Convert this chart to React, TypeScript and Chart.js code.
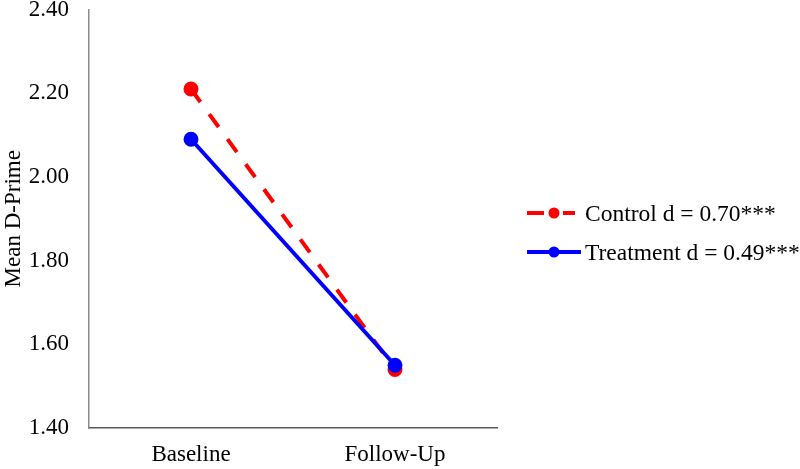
import React, { useEffect, useRef } from "react";
import { Chart, registerables } from "chart.js";

Chart.register(...registerables);

const categories = ["Baseline", "Follow-Up"];
const controlValues = [2.21, 1.54];
const treatmentValues = [2.09, 1.55];
const seriesLabels = ["Control d = 0.70***", "Treatment d = 0.49***"];
const yTitle = "Mean D-Prime";

const FONT = '"Liberation Serif", "Times New Roman", serif';

const legendPlugin = {
  id: "customLegend",
  afterDraw(chart: any) {
    const ctx = chart.ctx;
    const x0 = 527;
    const rows = [213, 252];
    const ends = [575, 581];
    chart.data.datasets.forEach((ds: any, i: number) => {
      const y = rows[i];
      ctx.save();
      ctx.strokeStyle = ds.borderColor;
      ctx.lineWidth = ds.borderWidth;
      ctx.beginPath();
      if (ds.borderDash) {
        ctx.moveTo(x0, y);
        ctx.lineTo(544, y);
        ctx.moveTo(563, y);
        ctx.lineTo(ends[i], y);
      } else {
        ctx.moveTo(x0, y);
        ctx.lineTo(ends[i], y);
      }
      ctx.stroke();
      ctx.fillStyle = ds.pointBackgroundColor;
      ctx.beginPath();
      ctx.arc(554, y, 5.5, 0, Math.PI * 2);
      ctx.fill();
      ctx.fillStyle = "#000";
      ctx.font = `23.5px ${FONT}`;
      ctx.textBaseline = "middle";
      ctx.textAlign = "left";
      ctx.fillText(ds.label, 585, y + 2);
      ctx.restore();
    });
  },
};

export default function App() {
  const ref = useRef<HTMLCanvasElement>(null);
  useEffect(() => {
    document.body.style.margin = "0";
    const chart = new Chart(ref.current!, {
      type: "line",
      data: {
        labels: categories,
        datasets: [
          {
            label: seriesLabels[0],
            data: controlValues,
            borderColor: "#FF0000",
            backgroundColor: "#FF0000",
            pointBackgroundColor: "#FF0000",
            pointBorderColor: "#FF0000",
            borderWidth: 4,
            borderDash: [16, 15],
            pointRadius: 5.5,
            order: 1,
          },
          {
            label: seriesLabels[1],
            data: treatmentValues,
            borderColor: "#0000FF",
            backgroundColor: "#0000FF",
            pointBackgroundColor: "#0000FF",
            pointBorderColor: "#0000FF",
            borderWidth: 4,
            pointRadius: 5.5,
            order: 0,
          },
        ],
      },
      options: {
        animation: false,
        responsive: false,
        layout: { padding: { top: 9, right: 303, left: 0, bottom: 0 } },
        plugins: {
          legend: { display: false },
          tooltip: { enabled: false },
        },
        scales: {
          x: {
            offset: true,
            grid: { display: false, drawTicks: false },
            border: { display: true, color: "#595959", width: 1.5 },
            ticks: {
              color: "#000",
              padding: 13,
              font: { family: FONT, size: 23 },
            },
            afterFit: (s: any) => {
              s.height = 41;
              s.paddingLeft = 0;
              s.paddingRight = 0;
            },
          },
          y: {
            min: 1.4,
            max: 2.4,
            grid: { display: false, drawTicks: false },
            border: { display: true, color: "#8a8a8a", width: 1.5 },
            ticks: {
              stepSize: 0.2,
              color: "#000",
              padding: 20,
              font: { family: FONT, size: 23, lineHeight: 0.8 },
              callback: (v: any) => Number(v).toFixed(2),
            },
            title: {
              display: true,
              text: yTitle,
              color: "#000",
              padding: 0,
              font: { family: FONT, size: 23 },
            },
            afterFit: (s: any) => {
              s.width = 89;
              s.paddingTop = 0;
              s.paddingBottom = 0;
            },
          },
        },
      },
      plugins: [legendPlugin],
    });
    return () => chart.destroy();
  }, []);
  return <canvas ref={ref} width={800} height={469} style={{ display: "block" }} />;
}
